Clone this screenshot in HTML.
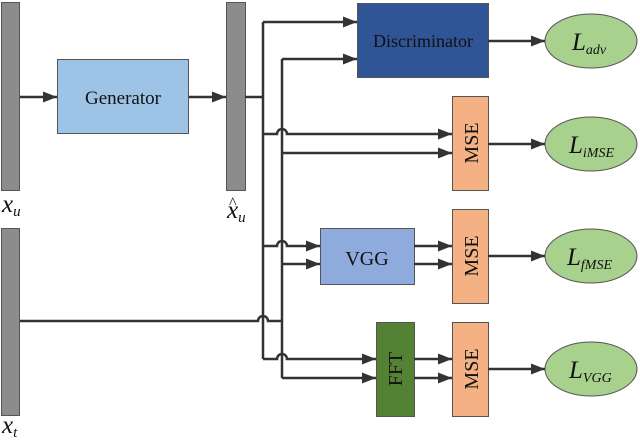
<!DOCTYPE html><html><head><style>body{margin:0;background:#fff}svg{display:block}</style></head><body>
<svg width="640" height="440" viewBox="0 0 640 440" xmlns="http://www.w3.org/2000/svg" font-family="Liberation Serif, serif">
<defs>
<marker id="b" viewBox="0 0 14 11" refX="14" refY="5.5" markerWidth="14" markerHeight="11" orient="auto" markerUnits="userSpaceOnUse"><path d="M0,0L14,5.5L0,11z" fill="#333"/></marker></defs>
<g stroke="#555" stroke-width="1">
<rect x="1.5" y="2.5" width="18" height="188" fill="#8c8c8c"/>
<rect x="1.5" y="228.5" width="18" height="187" fill="#8c8c8c"/>
<rect x="226.5" y="2.5" width="19" height="188" fill="#8c8c8c"/>
<rect x="57.5" y="59.5" width="131" height="74" fill="#9dc3e6"/>
<rect x="357.5" y="3.5" width="131" height="74" fill="#2f5597"/>
<rect x="452.5" y="96.5" width="36" height="94" fill="#f4b183"/>
<rect x="452.5" y="209.5" width="36" height="94" fill="#f4b183"/>
<rect x="452.5" y="322.5" width="36" height="94" fill="#f4b183"/>
<rect x="320.5" y="228.5" width="94" height="56" fill="#8faadc"/>
<rect x="376.5" y="322.5" width="38" height="94" fill="#548235"/>
<g fill="#a9d18e"><ellipse cx="591" cy="41" rx="46" ry="27"/><ellipse cx="591" cy="144" rx="46" ry="27"/><ellipse cx="591" cy="256" rx="46" ry="27"/><ellipse cx="591" cy="369" rx="46" ry="27"/></g>
</g>
<g stroke="#333" stroke-width="2.5" fill="none">
<path d="M20,97H57" marker-end="url(#b)"/>
<path d="M189,97H226" marker-end="url(#b)"/>
<path d="M245,97H263"/>
<path d="M263,22V359"/>
<path d="M282,59V378"/>
<path d="M263,22H357" marker-end="url(#b)"/>
<path d="M282,59H357" marker-end="url(#b)"/>
<path d="M263,134H277a5,5 0 0 1 10,0H452" marker-end="url(#b)"/>
<path d="M282,153H452" marker-end="url(#b)"/>
<path d="M263,246H277a5,5 0 0 1 10,0H320" marker-end="url(#b)"/>
<path d="M282,264H320" marker-end="url(#b)"/>
<path d="M263,359H277a5,5 0 0 1 10,0H376" marker-end="url(#b)"/>
<path d="M282,378H376" marker-end="url(#b)"/>
<path d="M20,321H258a5,5 0 0 1 10,0H282"/>
<path d="M414,246H452" marker-end="url(#b)"/>
<path d="M414,264H452" marker-end="url(#b)"/>
<path d="M414,359H452" marker-end="url(#b)"/>
<path d="M414,378H452" marker-end="url(#b)"/>
<path d="M488,41H545" marker-end="url(#b)"/>
<path d="M488,144H545" marker-end="url(#b)"/>
<path d="M488,256H545" marker-end="url(#b)"/>
<path d="M488,369H545" marker-end="url(#b)"/>
</g>
<g fill="#111" font-size="19" text-anchor="middle">
<text x="123" y="104">Generator</text>
<text x="423" y="47" font-size="18">Discriminator</text>
<text x="367" y="265" font-size="20">VGG</text>
<text transform="translate(478,143) rotate(-90)" font-size="20">MSE</text>
<text transform="translate(478,256) rotate(-90)" font-size="20">MSE</text>
<text transform="translate(478,369) rotate(-90)" font-size="20">MSE</text>
<text transform="translate(402,369) rotate(-90)" font-size="20">FFT</text>
</g>
<g fill="#111" font-style="italic" font-size="25">
<text x="572" y="50">L<tspan font-size="14" dy="4">adv</tspan></text>
<text x="569" y="153">L<tspan font-size="14" dy="4">iMSE</tspan></text>
<text x="567" y="265">L<tspan font-size="14" dy="4">fMSE</tspan></text>
<text x="569" y="378">L<tspan font-size="14" dy="4">VGG</tspan></text>
<text x="2" y="212">x<tspan font-size="15" dy="4">u</tspan></text>
<text x="2" y="433">x<tspan font-size="15" dy="4">t</tspan></text>
<text x="227" y="218">x<tspan font-size="15" dy="4">u</tspan></text>
<text x="229" y="208" font-style="normal" font-size="16">^</text>
</g>
</svg></body></html>
